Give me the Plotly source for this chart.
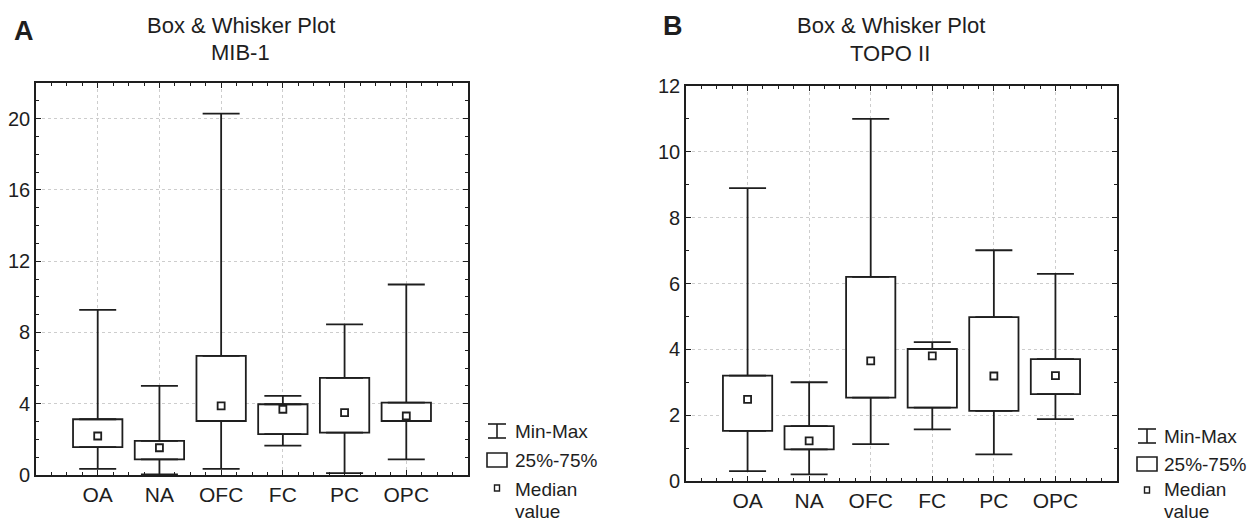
import plotly.graph_objects as go

W, H = 1248, 523

categories = ["OA", "NA", "OFC", "FC", "PC", "OPC"]

# Panel A: MIB-1
mib_min    = [0.34, 0.04, 0.34, 1.65, 0.11, 0.88]
mib_q1     = [1.56, 0.88, 3.03, 2.29, 2.38, 3.03]
mib_median = [2.19, 1.53, 3.88, 3.69, 3.50, 3.31]
mib_q3     = [3.13, 1.91, 6.69, 3.97, 5.45, 4.06]
mib_max    = [9.27, 5.00, 20.28, 4.44, 8.45, 10.69]

# Panel B: TOPO II
topo_min    = [0.30, 0.20, 1.12, 1.57, 0.81, 1.88]
topo_q1     = [1.52, 0.96, 2.53, 2.23, 2.13, 2.64]
topo_median = [2.48, 1.22, 3.65, 3.80, 3.19, 3.20]
topo_q3     = [3.20, 1.67, 6.20, 4.01, 4.98, 3.70]
topo_max    = [8.90, 3.00, 11.00, 4.22, 7.01, 6.29]

INK = "#1e1e1e"
FONT = "Liberation Sans, Arial, sans-serif"
LW = 1.8


def px(x):
    return x / W


def py(y):
    return 1 - y / H


fig = go.Figure()


def add_panel(xa, ya, mn, q1, med, q3, mx):
    idx = list(range(len(categories)))
    # whiskers (min-max), drawn as error bars outside the box
    fig.add_trace(go.Scatter(
        x=idx, y=q3, mode="markers", xaxis=xa, yaxis=ya,
        marker=dict(color="rgba(0,0,0,0)", size=2), showlegend=False, hoverinfo="skip",
        error_y=dict(type="data", symmetric=False,
                     array=[b - a for a, b in zip(q3, mx)],
                     arrayminus=[0] * len(idx),
                     width=18.5, thickness=LW, color=INK)))
    fig.add_trace(go.Scatter(
        x=idx, y=q1, mode="markers", xaxis=xa, yaxis=ya,
        marker=dict(color="rgba(0,0,0,0)", size=2), showlegend=False, hoverinfo="skip",
        error_y=dict(type="data", symmetric=False,
                     array=[0] * len(idx),
                     arrayminus=[a - b for a, b in zip(q1, mn)],
                     width=18.5, thickness=LW, color=INK)))
    # 25%-75% boxes
    fig.add_trace(go.Bar(
        x=idx, base=q1, y=[b - a for a, b in zip(q1, q3)], width=0.8,
        xaxis=xa, yaxis=ya, showlegend=False,
        marker=dict(color="white", line=dict(color=INK, width=LW))))
    # medians
    fig.add_trace(go.Scatter(
        x=idx, y=med, mode="markers", xaxis=xa, yaxis=ya, showlegend=False,
        marker=dict(symbol="square-open", size=7, color=INK, line=dict(width=LW, color=INK))))


add_panel("x", "y", mib_min, mib_q1, mib_median, mib_q3, mib_max)
add_panel("x2", "y2", topo_min, topo_q1, topo_median, topo_q3, topo_max)

axis_common = dict(
    showline=True, linecolor=INK, linewidth=1.6, mirror="allticks",
    ticks="inside", tickcolor=INK, tickwidth=1.3,
    showgrid=True, gridcolor="#cdcdcd", griddash="dot", gridwidth=1,
    zeroline=False, automargin=False,
    tickfont=dict(family=FONT, size=20, color=INK),
)

xaxis_common = dict(
    axis_common, range=[-1, 6], tickmode="array",
    tickvals=list(range(len(categories))), ticktext=categories, ticklen=5,
    tickfont=dict(family=FONT, size=21, color=INK),
    minor=dict(tickmode="linear", tick0=0, dtick=0.25, ticks="inside", ticklen=3,
               tickcolor=INK, showgrid=False),
)

fig.update_layout(
    width=W, height=H,
    margin=dict(l=0, r=0, t=0, b=0),
    paper_bgcolor="white", plot_bgcolor="white",
    barmode="overlay", showlegend=False,
    xaxis=dict(xaxis_common, domain=[px(36), px(468)], anchor="y"),
    yaxis=dict(axis_common, domain=[py(475), py(83)], range=[0, 22], tickmode="linear",
               tick0=0, dtick=4, ticklen=5, anchor="x",
               minor=dict(tickmode="linear", tick0=0, dtick=1, ticks="inside", ticklen=3,
                          tickcolor=INK, showgrid=False)),
    xaxis2=dict(xaxis_common, domain=[px(686), px(1117)], anchor="y2"),
    yaxis2=dict(axis_common, domain=[py(481), py(86)], range=[0, 12], tickmode="linear",
                tick0=0, dtick=2, ticklen=5, anchor="x2",
                minor=dict(tickmode="linear", tick0=0, dtick=1, ticks="inside", ticklen=3,
                           tickcolor=INK, showgrid=False)),
)

annotations = []


def text(x, y, s, size, bold=False, anchor="center"):
    annotations.append(dict(
        x=px(x), y=py(y), xref="paper", yref="paper", text=("<b>%s</b>" % s) if bold else s,
        showarrow=False, xanchor=anchor, yanchor="middle",
        font=dict(family=FONT, size=size, color=INK)))


# titles and panel labels
text(24, 31, "A", 27, bold=True)
text(241, 25, "Box &amp; Whisker Plot", 22)
text(240, 52, "MIB-1", 22)
text(673, 26, "B", 27, bold=True)
text(891, 25, "Box &amp; Whisker Plot", 22)
text(890, 54, "TOPO II", 22)

shapes = []


def legend(x0, y_mm, y_box, y_med, tx, y_medtxt, y_val):
    # Min-Max glyph
    xc = x0 + 10
    for yy in (y_mm - 7, y_mm + 7):
        shapes.append(dict(type="line", xref="paper", yref="paper", x0=px(x0 + 1), x1=px(x0 + 19),
                           y0=py(yy), y1=py(yy), line=dict(color=INK, width=1.6)))
    shapes.append(dict(type="line", xref="paper", yref="paper", x0=px(xc), x1=px(xc),
                       y0=py(y_mm - 7), y1=py(y_mm + 7), line=dict(color=INK, width=1.6)))
    # box glyph
    shapes.append(dict(type="rect", xref="paper", yref="paper", x0=px(x0), x1=px(x0 + 20),
                       y0=py(y_box - 7), y1=py(y_box + 7), line=dict(color=INK, width=1.6),
                       fillcolor="white"))
    # median glyph
    shapes.append(dict(type="rect", xref="paper", yref="paper", x0=px(xc - 2.5), x1=px(xc + 2.5),
                       y0=py(y_med - 3), y1=py(y_med + 3), line=dict(color=INK, width=1.4)))
    text(tx, y_mm, "Min-Max", 19, anchor="left")
    text(tx, y_box, "25%-75%", 19, anchor="left")
    text(tx, y_medtxt, "Median", 19, anchor="left")
    text(tx, y_val, "value", 19, anchor="left")


legend(487, 431, 460, 488, 513, 489, 511)
legend(1137, 436, 464, 490, 1162, 489, 511)

fig.update_layout(annotations=annotations, shapes=shapes)

fig.write_html(
    "out.html",
    config={"displayModeBar": False},
    post_script="document.body.style.margin='0';document.body.style.overflow='hidden';",
)
